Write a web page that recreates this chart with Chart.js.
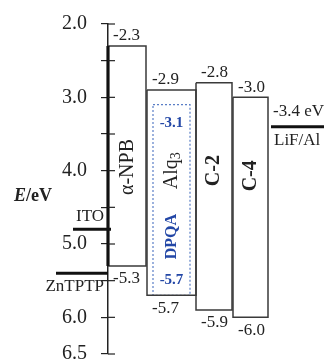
<!DOCTYPE html>
<html>
<head>
<meta charset="utf-8">
<script src="https://cdn.jsdelivr.net/npm/chart.js@4.4.0/dist/chart.umd.min.js"></script>
<style>
  html, body { margin: 0; padding: 0; background: #fff; }
  canvas { display: block; }
</style>
</head>
<body>
<canvas id="chartNiveles" width="328" height="359"></canvas>
<script>
// Niveles de energía (eV, valor absoluto)
const capas = ['α-NPB', 'Alq3', 'C-2', 'C-4'];
const lumo = [2.3, 2.9, 2.8, 3.0];
const homo = [5.3, 5.7, 5.9, 6.0];
const dopante = 'DPQA';
const dopLumo = 3.1;
const dopHomo = 5.7;
const electrodos = ['ITO', 'ZnTPTP', 'LiF/Al'];
const funcTrabajo = [4.8, 5.4, 3.4];
const tickLabels = ['2.0', '3.0', '4.0', '5.0', '6.0', '6.5'];

// Disposición horizontal (unidades del eje x oculto)
const colX = [[0, 38], [39, 88], [88, 124], [125, 160]];
const dopX = [45, 82];
const elecX = [[-35, 3], [-52, 0], [163, 216]];

const SERIF = '"Liberation Serif", "DejaVu Serif", serif';
const NEGRO = '#222';
const AZUL = '#2347a6';

function caja(x0, x1, top, bot) {
  return [{x: x0, y: top}, {x: x1, y: top}, {x: x1, y: bot}, {x: x0, y: bot}, {x: x0, y: top}];
}

const datasets = [];
capas.forEach((c, i) => {
  datasets.push({
    label: c,
    data: caja(colX[i][0], colX[i][1], lumo[i], homo[i]),
    showLine: true, pointRadius: 0, borderColor: '#3a3a3a', borderWidth: 1.5,
    fill: false, clip: false,
    segment: i === 0 ? { borderWidth: ctx => ctx.p0DataIndex === 3 ? 3.2 : 1.5, borderColor: ctx => ctx.p0DataIndex === 3 ? '#111' : '#3a3a3a' } : undefined
  });
});
datasets.push({
  label: dopante,
  data: caja(dopX[0], dopX[1], dopLumo, dopHomo),
  showLine: true, pointRadius: 0, borderColor: '#5a7ec6', borderWidth: 1.2,
  borderDash: [2, 2], fill: false, clip: false
});
electrodos.forEach((e, i) => {
  datasets.push({
    label: e,
    data: [{x: elecX[i][0], y: funcTrabajo[i]}, {x: elecX[i][1], y: funcTrabajo[i]}],
    showLine: true, pointRadius: 0, borderColor: '#111', borderWidth: 3,
    fill: false, clip: false
  });
});

const etiquetas = {
  id: 'etiquetas',
  afterDraw(chart) {
    const ctx = chart.ctx;
    const xs = chart.scales.x, ys = chart.scales.y;
    const X = v => xs.getPixelForValue(v), Y = v => ys.getPixelForValue(v);
    ctx.save();

    // marcas del eje hacia dentro
    ctx.strokeStyle = NEGRO; ctx.lineWidth = 1.2;
    ys.ticks.forEach(t => {
      const y = Y(t.value);
      ctx.beginPath(); ctx.moveTo(chart.chartArea.left, y); ctx.lineTo(chart.chartArea.left + 7, y); ctx.stroke();
    });

    ctx.fillStyle = NEGRO;
    ctx.textBaseline = 'middle';
    ctx.textAlign = 'left';
    ctx.font = '17px ' + SERIF;
    capas.forEach((c, i) => {
      ctx.fillText('-' + lumo[i].toFixed(1), X(colX[i][0]) + 5, Y(lumo[i]) - 10);
      ctx.fillText('-' + homo[i].toFixed(1), X(colX[i][0]) + 5, Y(homo[i]) + 13);
    });

    // electrodos
    ctx.textAlign = 'right';
    ctx.fillText(electrodos[0], X(elecX[0][1]) - 7, Y(funcTrabajo[0]) - 13);
    ctx.fillText(electrodos[1], X(elecX[1][1]) - 4, Y(funcTrabajo[1]) + 13);
    ctx.textAlign = 'left';
    ctx.fillText('-' + funcTrabajo[2].toFixed(1) + ' eV', X(elecX[2][0]) + 2, Y(funcTrabajo[2]) - 15);
    ctx.fillText(electrodos[2], X(elecX[2][0]) + 3, Y(funcTrabajo[2]) + 14);

    // dopante
    ctx.fillStyle = AZUL;
    ctx.textAlign = 'center';
    ctx.font = 'bold 15px ' + SERIF;
    const dx = (X(dopX[0]) + X(dopX[1])) / 2;
    ctx.fillText('-' + dopLumo.toFixed(1), dx, Y(dopLumo) + 18);
    ctx.fillText('-' + dopHomo.toFixed(1), dx, Y(dopHomo) - 15);

    function vertical(txt, font, cx, cy, color) {
      ctx.save();
      ctx.translate(cx, cy); ctx.rotate(-Math.PI / 2);
      ctx.font = font; ctx.fillStyle = color;
      ctx.textAlign = 'center'; ctx.textBaseline = 'middle';
      ctx.fillText(txt, 0, 0);
      ctx.restore();
    }
    vertical(dopante, 'bold 16px ' + SERIF, dx, Y(4.9), AZUL);

    const cxs = colX.map(c => (X(c[0]) + X(c[1])) / 2);
    vertical(capas[0], '20px ' + SERIF, cxs[0] + 1, Y(3.95), NEGRO);
    // Alq3 con subíndice
    ctx.save();
    ctx.translate(cxs[1], Y(4.0)); ctx.rotate(-Math.PI / 2);
    ctx.fillStyle = NEGRO; ctx.textBaseline = 'middle'; ctx.textAlign = 'left';
    ctx.font = '20px ' + SERIF;
    const w1 = ctx.measureText('Alq').width;
    ctx.font = '14px ' + SERIF;
    const w2 = ctx.measureText('3').width;
    const x0 = -(w1 + w2) / 2;
    ctx.font = '20px ' + SERIF;
    ctx.fillText('Alq', x0, 0);
    ctx.font = '14px ' + SERIF;
    ctx.fillText('3', x0 + w1, 5);
    ctx.restore();
    vertical(capas[2], 'bold 20px ' + SERIF, cxs[2], Y(4.0), NEGRO);
    vertical(capas[3], 'bold 20px ' + SERIF, cxs[3], Y(4.07), NEGRO);

    // título del eje
    ctx.fillStyle = NEGRO; ctx.textAlign = 'left'; ctx.textBaseline = 'middle';
    ctx.font = 'italic bold 18px ' + SERIF;
    ctx.fillText('E', 14, Y(4.35));
    const wE = ctx.measureText('E').width;
    ctx.font = 'bold 18px ' + SERIF;
    ctx.fillText('/eV', 14 + wE, Y(4.35));

    ctx.restore();
  }
};

new Chart(document.getElementById('chartNiveles'), {
  type: 'scatter',
  data: { datasets },
  plugins: [etiquetas],
  options: {
    responsive: false,
    animation: false,
    layout: { padding: { left: 0, top: 24, right: 4, bottom: 5 } },
    plugins: { legend: { display: false }, tooltip: { enabled: false } },
    scales: {
      x: { type: 'linear', display: false, min: 0, max: 216 },
      y: {
        type: 'linear', reverse: true, min: 2.0, max: 6.5,
        afterFit: s => { s.width = 108; s.paddingTop = 0; s.paddingBottom = 0; },
        border: { display: true, color: NEGRO, width: 1.5 },
        grid: { drawOnChartArea: false, drawTicks: true, tickLength: 7, color: NEGRO, lineWidth: 1.2 },
        ticks: {
          stepSize: 0.5, autoSkip: false, padding: 14, color: NEGRO,
          font: { family: SERIF, size: 20 },
          callback: v => tickLabels.includes(Number(v).toFixed(1)) ? Number(v).toFixed(1) : ''
        }
      }
    }
  }
});
</script>
</body>
</html>
